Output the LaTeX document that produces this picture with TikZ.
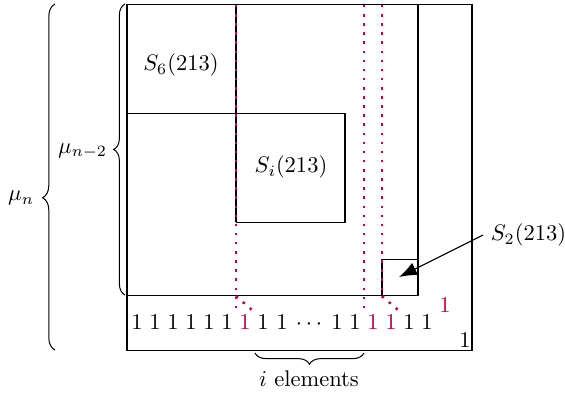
\documentclass[tikz,border=0pt]{standalone}
\usetikzlibrary{decorations.pathreplacing,arrows.meta}
\begin{document}
\begin{tikzpicture}[x=0.4444pt,y=-0.4444pt,
  box/.style={draw=black,line width=0.45pt},
  reddot/.style={draw=purple,line width=1.1pt,dash pattern=on 1.1pt off 2.95pt},
  digit/.style={anchor=base,inner sep=0pt},
  bracestyle/.style={draw=black,line width=0.45pt,decorate,decoration={brace,amplitude=5pt}}]
\useasboundingbox (0,0) rectangle (565,393);
% boxes
\draw[box] (127,4) rectangle (472,350);
\draw[box] (127,4) rectangle (418,295);
\draw[box] (236,4) -- (236,222);
\draw[box] (127,113) -- (345,113) -- (345,222) -- (236,222);
\draw[box] (382,259) rectangle (418,295);
% red dotted lines
\draw[reddot] (236,5) -- (236,314);
\draw[reddot] (236,296) -- (252,310);
\draw[reddot] (364,5) -- (364,314);
\draw[reddot] (382,5) -- (382,297);
\draw[reddot] (382,296) -- (398,310);
% labels
\node (s6) at (181,65) {$S_6(213)$};
\node (si) at (291,167) {$S_i(213)$};
\node[anchor=west] (s2) at (483,235) {$S_2(213)$};
\coordinate (s2tip) at (399,277);
\draw[line width=0.5pt,-{Latex[length=8pt,width=6pt]}] (s2.west) -- (s2tip);
% row of ones
\foreach \x [count=\k] in {137,155,173,191,209,227,263,282,337,355,409,427}
  \node[digit] (d\k) at (\x,329) {1};
\foreach \x [count=\k] in {245,373,391}
  \node[digit,text=purple] (r\k) at (\x,329) {1};
\node[digit] (dots) at (309,329) {$\cdots$};
\node[text=purple] (rtop) at (445,305) {1};
\node (bone) at (465,340) {1};
% braces
\draw[bracestyle,decoration={aspect=0.44,amplitude=5.5pt}] (55,350) -- (55,4);
\node[anchor=east] (mun) at (42,198) {$\mu_n$};
\draw[bracestyle] (125,295) -- (125,4);
\node[anchor=east] (munm) at (115,151) {$\mu_{n-2}$};
\draw[bracestyle] (364,353) -- (255,353);
\node (iel) at (309,379) {$i$ elements};
\end{tikzpicture}
\end{document}
